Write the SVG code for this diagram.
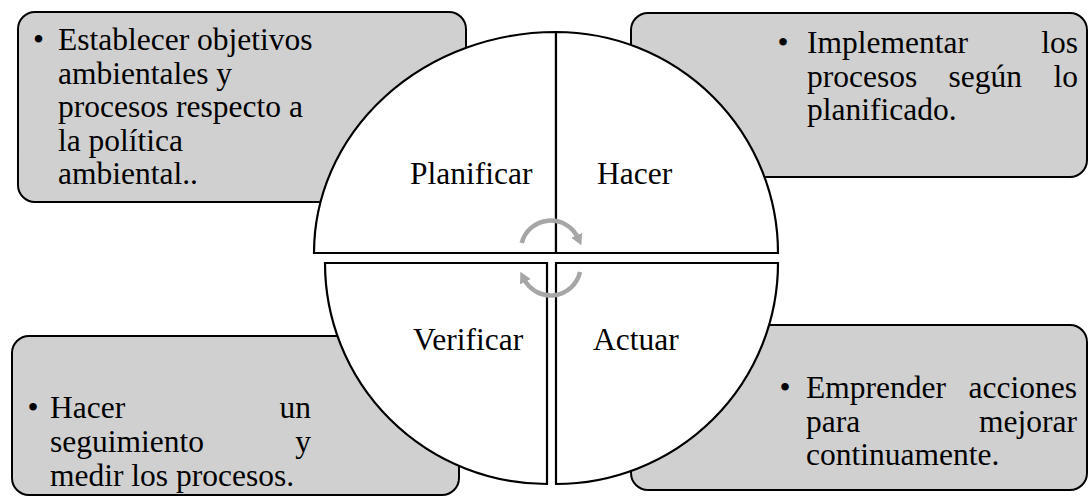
<svg xmlns="http://www.w3.org/2000/svg" width="1089" height="498" viewBox="0 0 1089 498">
<style>
.box{fill:#d0d0d0;stroke:#000;stroke-width:2}
.quad{fill:#fff;stroke:#000;stroke-width:2.2;stroke-linejoin:miter}
.t{font-family:"Liberation Serif","Times New Roman",serif;font-size:31.5px;fill:#000}
.e{text-anchor:end}
.b{text-anchor:middle}
.arr{fill:none;stroke:#a6a6a6;stroke-width:4.5}
</style>
<defs>
<marker id="ah" markerUnits="userSpaceOnUse" markerWidth="14" markerHeight="14" refX="3" refY="6" orient="auto">
<path d="M0,0 L11,6 L0,12 z" fill="#a6a6a6"/>
</marker>
</defs>
<g id="box-planificar">
<rect class="box" x="18" y="12" width="448" height="190" rx="17"/>
</g>
<g id="box-hacer">
<rect class="box" x="631" y="13" width="456" height="164" rx="17"/>
</g>
<g id="box-verificar">
<rect class="box" x="12" y="336" width="447" height="159" rx="17"/>
</g>
<g id="box-actuar">
<rect class="box" x="631" y="325" width="456" height="165" rx="17"/>
</g>
<g id="planificar">
<path class="quad" d="M556,253 L314,253 A242,221 0 0 1 556,32 Z"/>
<text class="t" x="410" y="184">Planificar</text>
</g>
<g id="hacer">
<path class="quad" d="M556,253 L556,32 A222,221 0 0 1 778,253 Z"/>
<text class="t" x="597" y="184">Hacer</text>
</g>
<g id="verificar">
<path class="quad" d="M547,263 L547,484 A222,221 0 0 1 325,263 Z"/>
<text class="t" x="413" y="350">Verificar</text>
</g>
<g id="actuar">
<path class="quad" d="M556,263 L778,263 A222,221 0 0 1 556,484 Z"/>
<text class="t" x="593" y="350">Actuar</text>
</g>
<g id="text-planificar">
<text class="t b" x="38.5" y="50">•</text>
<text class="t" x="58" y="50">Establecer objetivos</text>
<text class="t" x="58" y="83.5">ambientales y</text>
<text class="t" x="58" y="117">procesos respecto a</text>
<text class="t" x="58" y="150.5">la política</text>
<text class="t" x="58" y="184">ambiental..</text>
</g>
<g id="text-hacer">
<text class="t b" x="783" y="53">•</text>
<text class="t" x="807" y="53">Implementar</text>
<text class="t e" x="1078" y="53">los</text>
<text class="t" x="807" y="86.5">procesos</text>
<text class="t" x="948.5" y="86.5">según</text>
<text class="t e" x="1078" y="86.5">lo</text>
<text class="t" x="807" y="120">planificado.</text>
</g>
<g id="text-verificar">
<text class="t b" x="33" y="418">•</text>
<text class="t" x="50" y="418">Hacer</text>
<text class="t e" x="311" y="418">un</text>
<text class="t" x="50" y="452">seguimiento</text>
<text class="t e" x="311" y="452">y</text>
<text class="t" x="50" y="486">medir los procesos.</text>
</g>
<g id="text-actuar">
<text class="t b" x="785" y="398">•</text>
<text class="t" x="806" y="398">Emprender</text>
<text class="t e" x="1077" y="398">acciones</text>
<text class="t" x="806" y="431.5">para</text>
<text class="t e" x="1077" y="431.5">mejorar</text>
<text class="t" x="806" y="465">continuamente.</text>
</g>
<g id="connectors">
<path class="arr" d="M521.7,243 A30,30 0 0 1 578,238" marker-end="url(#ah)"/>
<path class="arr" d="M580,272 A30,30 0 0 1 524,279" marker-end="url(#ah)"/>
</g>
</svg>
